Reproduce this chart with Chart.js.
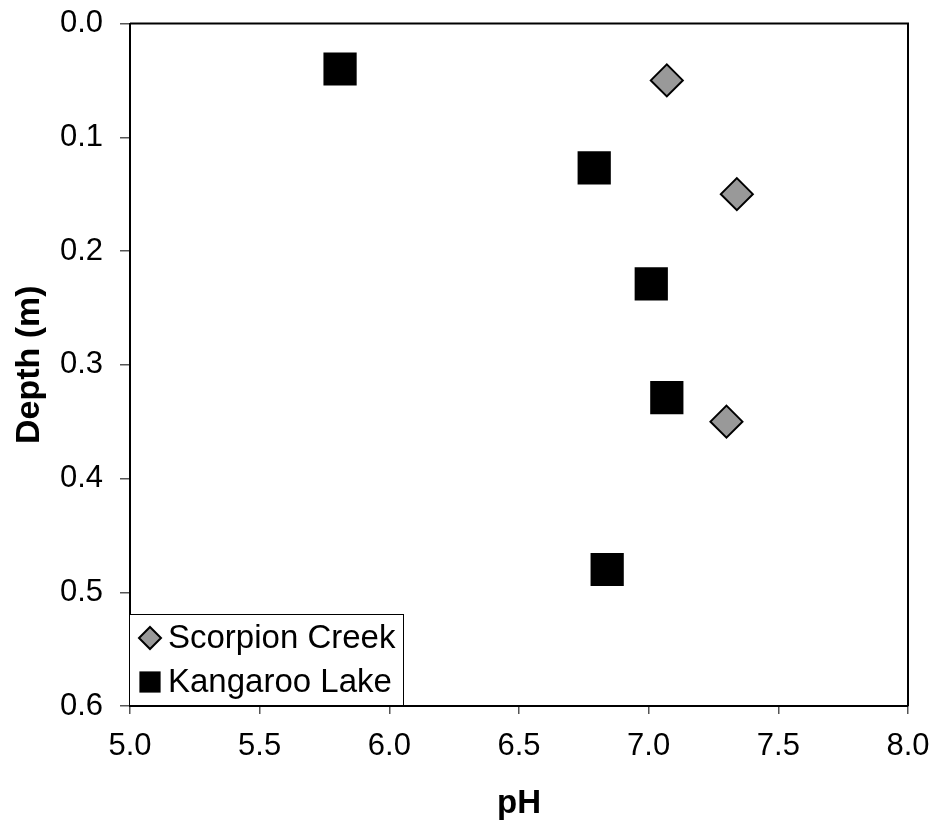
<!DOCTYPE html>
<html>
<head>
<meta charset="utf-8">
<script src="https://cdn.jsdelivr.net/npm/chart.js@4.4.1/dist/chart.umd.min.js"></script>
<style>
  html, body { margin: 0; padding: 0; background: #fff; }
  canvas { display: block; }
</style>
</head>
<body>
<canvas id="myChart" width="936" height="828"></canvas>
<script>
// data
const scorpionPH = [7.07, 7.34, 7.30];
const scorpionDepth = [0.05, 0.15, 0.35];
const kangarooPH = [5.81, 6.79, 7.01, 7.07, 6.84];
const kangarooDepth = [0.04, 0.127, 0.229, 0.329, 0.48];
const xTicks = [5.0, 5.5, 6.0, 6.5, 7.0, 7.5, 8.0];
const yTicks = [0.0, 0.1, 0.2, 0.3, 0.4, 0.5, 0.6];

const FONT = "'Liberation Sans', Arial, sans-serif";

function toPoints(xs, ys) {
    return xs.map((x, i) => ({ x: x, y: ys[i] }));
}

// frame on top/right of the plot area
const frame = {
    id: 'frame',
    beforeDatasetsDraw(chart) {
        const a = chart.chartArea;
        const c = chart.ctx;
        c.save();
        c.strokeStyle = '#000';
        c.lineWidth = 2;
        c.beginPath();
        c.moveTo(a.left, a.top);
        c.lineTo(a.right, a.top);
        c.lineTo(a.right, a.bottom);
        c.stroke();
        c.restore();
    }
};

// legend box sitting inside the plot, bottom-left
const boxLegend = {
    id: 'boxLegend',
    afterDraw(chart) {
        const c = chart.ctx;
        const a = chart.chartArea;
        const x0 = a.left - 1, y0 = a.bottom - 92, w = 274, h = 91;
        c.save();
        c.fillStyle = '#fff';
        c.fillRect(x0, y0, w, h);
        c.strokeStyle = '#000';
        c.lineWidth = 1;
        c.strokeRect(x0 + 0.5, y0 + 0.5, w, h);
        c.font = '33px ' + FONT;
        c.textBaseline = 'middle';
        const rows = [y0 + 24, y0 + 68];
        chart.data.datasets.forEach((ds, i) => {
            const style = ds.pointStyle;
            const r = style === 'rect' ? 15 : 11;
            c.fillStyle = ds.pointBackgroundColor;
            c.strokeStyle = ds.pointBorderColor;
            c.lineWidth = ds.pointBorderWidth;
            c.beginPath();
            if (style === 'rect') {
                const s = r * Math.SQRT1_2;
                c.rect(x0 + 21 - s, rows[i] - s, 2 * s, 2 * s);
            } else {
                c.moveTo(x0 + 21, rows[i] - r);
                c.lineTo(x0 + 21 + r, rows[i]);
                c.lineTo(x0 + 21, rows[i] + r);
                c.lineTo(x0 + 21 - r, rows[i]);
                c.closePath();
            }
            c.fill();
            if (ds.pointBorderWidth) c.stroke();
            c.fillStyle = '#000';
            c.fillText(ds.label, x0 + 39, rows[i] + 1);
        });
        c.restore();
    }
};

const ctx = document.getElementById('myChart');

const chart1 = new Chart(ctx, {
    type: 'scatter',
    data: {
        datasets: [
            {
                label: 'Scorpion Creek',
                data: toPoints(scorpionPH, scorpionDepth),
                pointStyle: 'rectRot',
                pointRadius: 16,
                pointHoverRadius: 16,
                pointBackgroundColor: '#999999',
                pointBorderColor: '#000',
                pointBorderWidth: 2,
            },
            {
                label: 'Kangaroo Lake',
                data: toPoints(kangarooPH, kangarooDepth),
                pointStyle: 'rect',
                pointRadius: 23.5,
                pointHoverRadius: 23.5,
                pointBackgroundColor: '#000',
                pointBorderColor: '#000',
                pointBorderWidth: 0,
            },
        ],
    },
    options: {
        responsive: false,
        animation: false,
        clip: false,
        layout: {
            padding: { top: 21, right: 28, left: 0, bottom: 0 }
        },
        plugins: {
            legend: { display: false },
            tooltip: { enabled: false }
        },
        scales: {
            x: {
                type: 'linear',
                min: 5,
                max: 8,
                afterFit: (s) => { s.height = 122; s.paddingLeft = 0; s.paddingRight = 0; },
                afterBuildTicks: (s) => { s.ticks = xTicks.map(v => ({ value: v })); },
                border: { color: '#000', width: 2 },
                grid: {
                    drawOnChartArea: false,
                    drawTicks: true,
                    tickLength: 8,
                    color: '#555',
                    lineWidth: 1.5
                },
                ticks: {
                    color: '#000',
                    padding: 14,
                    font: { family: FONT, size: 31 },
                    callback: (v) => v.toFixed(1)
                },
                title: {
                    display: true,
                    text: 'pH',
                    color: '#000',
                    padding: { top: 3, bottom: 4 },
                    font: { family: FONT, size: 33, weight: 'bold' }
                }
            },
            y: {
                type: 'linear',
                reverse: true,
                min: 0,
                max: 0.6,
                afterFit: (s) => { s.width = 130; s.paddingTop = 0; s.paddingBottom = 0; },
                afterBuildTicks: (s) => { s.ticks = yTicks.map(v => ({ value: v })); },
                border: { color: '#000', width: 2 },
                grid: {
                    drawOnChartArea: false,
                    drawTicks: true,
                    tickLength: 10,
                    color: '#555',
                    lineWidth: 1.5
                },
                ticks: {
                    color: '#000',
                    padding: 17,
                    font: { family: FONT, size: 31 },
                    callback: (v) => v.toFixed(1)
                },
                title: {
                    display: true,
                    text: 'Depth (m)',
                    color: '#000',
                    padding: { top: 9, bottom: 4 },
                    font: { family: FONT, size: 34, weight: 'bold' }
                }
            }
        }
    },
    plugins: [frame, boxLegend]
});
</script>
</body>
</html>
